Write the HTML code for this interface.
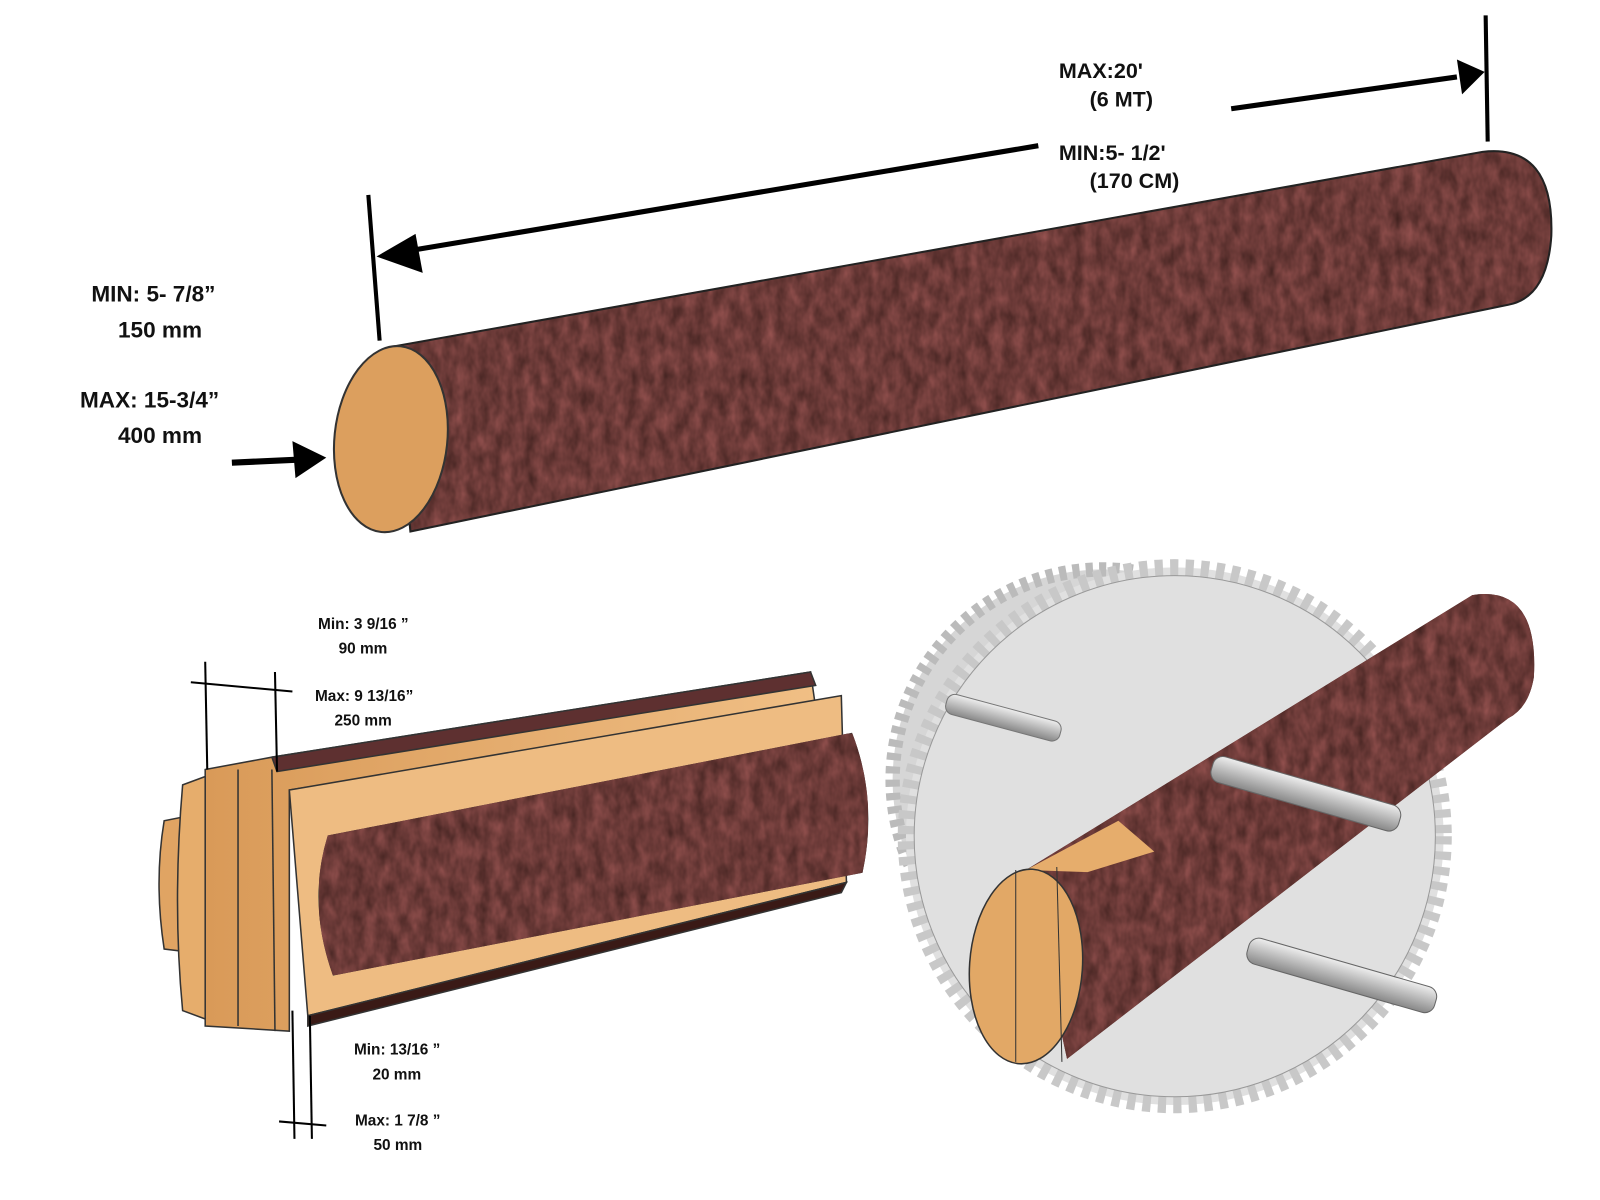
<!DOCTYPE html>
<html><head><meta charset="utf-8"><style>
html,body{margin:0;padding:0;background:#fff}
svg{display:block}
.t{font-family:"Liberation Sans",sans-serif;font-weight:bold;fill:#111}
</style></head><body>
<svg width="1600" height="1200" viewBox="0 0 1600 1200" xmlns="http://www.w3.org/2000/svg">
<defs>
<filter id="bark" x="0" y="0" width="100%" height="100%" color-interpolation-filters="sRGB">
<feTurbulence type="fractalNoise" baseFrequency="0.09 0.05" numOctaves="3" seed="3" result="n"/>
<feColorMatrix in="n" type="matrix" values="0.35 0 0 0 0.25  0.2 0 0 0 0.13  0.2 0 0 0 0.12  0 0 0 0 1" result="c"/>
<feComposite in="c" in2="SourceGraphic" operator="in"/>
</filter>
<linearGradient id="wood" x1="0" y1="0" x2="1" y2="0"><stop offset="0" stop-color="#d99a58"/><stop offset="1" stop-color="#f0bf85"/></linearGradient>
<linearGradient id="steel" x1="0" y1="0" x2="0" y2="1"><stop offset="0" stop-color="#eee"/><stop offset=".5" stop-color="#bbb"/><stop offset="1" stop-color="#888"/></linearGradient>
</defs>
<g transform="scale(1.026)">
<path d="M382,338 L1445,148 Q1515,140 1512,230 Q1508,290 1470,297 L400,518 Z" fill="#5e3030"/>
<path d="M382,338 L1445,148 Q1515,140 1512,230 Q1508,290 1470,297 L400,518 Z" fill="#5e3030" filter="url(#bark)"/>
<path d="M382,338 L1445,148 Q1515,140 1512,230 Q1508,290 1470,297 L400,518 Z" fill="none" stroke="#222" stroke-width="2"/>
<ellipse cx="381" cy="428" rx="55" ry="91" transform="rotate(6 381 428)" fill="#dc9f5e" stroke="#333" stroke-width="2"/>

<line x1="359" y1="190" x2="370" y2="332" stroke="#000" stroke-width="4"/>
<line x1="1448" y1="15" x2="1450" y2="138" stroke="#000" stroke-width="4"/>
<line x1="395" y1="245" x2="1012" y2="142" stroke="#000" stroke-width="5"/>
<polygon points="367,250 405,228 412,266" fill="#000"/>
<line x1="1200" y1="106" x2="1420" y2="75" stroke="#000" stroke-width="5"/>
<polygon points="1447,70 1420,58 1425,92" fill="#000"/>
<line x1="226" y1="451" x2="290" y2="448" stroke="#000" stroke-width="6"/>
<polygon points="318,446 285,430 288,466" fill="#000"/>

<text class="t" x="1032" y="76" font-size="21">MAX:20'</text>
<text class="t" x="1062" y="104" font-size="21">(6 MT)</text>
<text class="t" x="1032" y="156" font-size="21">MIN:5- 1/2'</text>
<text class="t" x="1062" y="183" font-size="21">(170 CM)</text>
<text class="t" x="89" y="294" font-size="22">MIN: 5- 7/8”</text>
<text class="t" x="115" y="329" font-size="22">150 mm</text>
<text class="t" x="78" y="397" font-size="22">MAX: 15-3/4”</text>
<text class="t" x="115" y="432" font-size="22">400 mm</text>

<g stroke="#333" stroke-width="1.5">
<path d="M160,800 Q150,860 160,925 L185,928 L185,795 Z" fill="#e0a463"/>
<path d="M178,765 L205,755 L205,995 L178,985 Q168,880 178,765 Z" fill="#e6ad6c"/>
<path d="M200,750 L265,738 L790,655 L795,690 L282,770 L282,1005 L200,1000 Z" fill="url(#wood)"/>
<path d="M265,738 L790,655 L795,668 L270,752 Z" fill="#5e3030"/>
<path d="M282,770 L820,678 L825,860 L300,990 Z" fill="#eebc82"/>
<path d="M300,990 L825,860 L820,870 L300,1000 Z" fill="#3a1a16"/>
<path d="M320,815 L830,715 Q855,780 840,850 L325,950 Q300,880 320,815 Z" fill="#5e3030"/>
<path d="M320,815 L830,715 Q855,780 840,850 L325,950 Q300,880 320,815 Z" fill="#5e3030" filter="url(#bark)"/>
<line x1="265" y1="750" x2="268" y2="1005" />
<line x1="232" y1="750" x2="232" y2="1000"/>
</g>
<g stroke="#000" stroke-width="2">
<line x1="200" y1="645" x2="202" y2="750"/>
<line x1="268" y1="655" x2="270" y2="752"/>
<line x1="186" y1="665" x2="285" y2="674"/>
<line x1="285" y1="985" x2="287" y2="1110"/>
<line x1="302" y1="990" x2="304" y2="1110"/>
<line x1="272" y1="1093" x2="318" y2="1097"/>
</g>
<text class="t" x="310" y="613" font-size="15">Min: 3 9/16 ”</text>
<text class="t" x="330" y="637" font-size="15">90 mm</text>
<text class="t" x="307" y="683" font-size="15">Max: 9 13/16”</text>
<text class="t" x="326" y="707" font-size="15">250 mm</text>
<text class="t" x="345" y="1028" font-size="15">Min: 13/16 ”</text>
<text class="t" x="363" y="1052" font-size="15">20 mm</text>
<text class="t" x="346" y="1097" font-size="15">Max: 1 7/8 ”</text>
<text class="t" x="364" y="1121" font-size="15">50 mm</text>

<circle cx="1075" cy="760" r="205" fill="#d6d6d6" stroke="#bbb" stroke-width="14" stroke-dasharray="7 6"/>
<circle cx="1145" cy="815" r="262" fill="#e0e0e0" stroke="#c8c8c8" stroke-width="16" stroke-dasharray="8 7"/>
<circle cx="1145" cy="815" r="254" fill="none" stroke="#999" stroke-width="1"/>
<g stroke="#777" stroke-width="1">
<rect x="925" y="675" width="115" height="20" rx="8" fill="url(#steel)" transform="rotate(15 925 675)"/>
</g>
<path d="M1000,848 L1435,580 Q1500,570 1495,660 Q1490,690 1470,700 L1040,1032 Z" fill="#5e3030"/>
<path d="M1000,848 L1435,580 Q1500,570 1495,660 Q1490,690 1470,700 L1040,1032 Z" fill="#5e3030" filter="url(#bark)"/>
<path d="M1000,848 L1090,800 L1125,830 L1060,850 Z" fill="#e6ad6c"/>
<ellipse cx="1000" cy="942" rx="55" ry="95" transform="rotate(4 1000 942)" fill="#e2a866" stroke="#333" stroke-width="1.5"/>
<line x1="990" y1="848" x2="990" y2="1035" stroke="#333"/>
<line x1="1030" y1="845" x2="1035" y2="1035" stroke="#333"/>
<g stroke="#666" stroke-width="1">
<rect x="1185" y="735" width="190" height="26" rx="10" fill="url(#steel)" transform="rotate(16 1185 735)"/>
<rect x="1220" y="912" width="190" height="26" rx="10" fill="url(#steel)" transform="rotate(16 1220 912)"/>
</g>
</g>
</svg>
</body></html>
